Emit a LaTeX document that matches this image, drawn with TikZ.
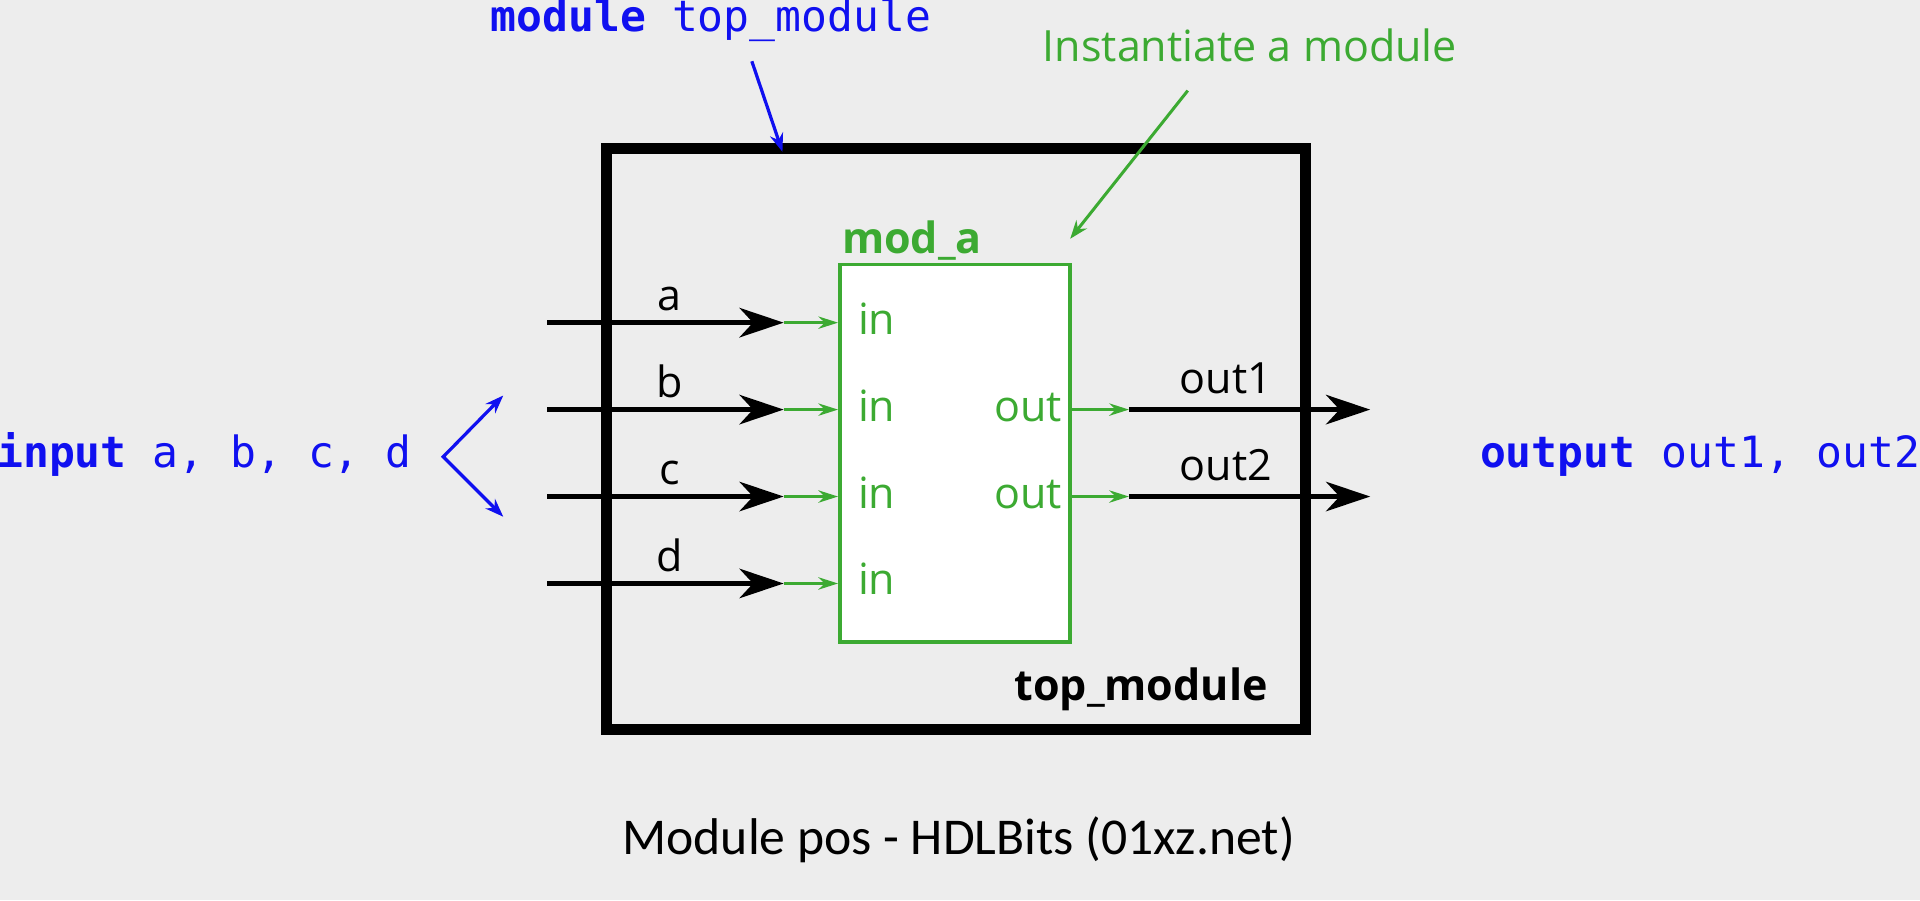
\documentclass[tikz,border=0pt]{standalone}
\usepackage{fontspec}
\setmainfont{Open Sans}
\newfontfamily\codefont{DejaVu Sans Mono}
\newfontfamily\capfont{Carlito}
\usetikzlibrary{arrows.meta}
\definecolor{paper}{RGB}{237,237,237}
\definecolor{vblue}{RGB}{16,16,240}
\definecolor{vgreen}{RGB}{60,170,50}
\begin{document}
\begin{tikzpicture}[x=0.1mm,y=-0.1mm,
    >={Stealth[length=1.5mm,width=1.1mm]},
    box/.style={draw,line width=2.5pt,minimum width=57.1mm,minimum height=47.5mm},
    inst/.style={draw=vgreen,fill=white,line width=0.9pt,minimum width=18.8mm,minimum height=30.8mm},
    wire/.style={line width=1.3pt,-{Stealth[length=3.6mm,width=2.4mm,inset=1.1mm]}},
    link/.style={vgreen,line width=0.8pt,-{Stealth[length=1.6mm,width=1mm]}},
    note/.style={vblue,line width=0.75pt},
    callout/.style={vgreen,line width=0.7pt},
    code/.style={vblue,font=\codefont\fontsize{10pt}{12pt}\selectfont,inner sep=0pt},
    lbl/.style={font=\fontsize{10pt}{12pt}\selectfont,inner sep=0pt},
    port/.style={lbl,vgreen},
    captxt/.style={font=\capfont\fontsize{12pt}{14pt}\selectfont,inner sep=0pt},
  ]
  \useasboundingbox (0,0) rectangle (1568,735);
  \fill[paper] (0,0) rectangle (1568,735);
  \node[box] (top) at (780.5,358.5) {};
  \node[inst] (moda) at (780,370) {};
  \node[port,anchor=base west] (modname) at (687,207) {\bfseries mod\_a};
  \node[lbl,anchor=base east] (topname) at (1036,572) {\bfseries top\_module};
  \node[code,anchor=base west] (modkw) at (400,26) {{\bfseries module} top\_module};
  \node[code,anchor=base west] (inkw) at (-3,382) {{\bfseries input} a, b, c, d};
  \node[code,anchor=base west] (outkw) at (1208,382) {{\bfseries output} out1, out2};
  \node[lbl,vgreen,anchor=base west] (instlbl) at (851,50) {Instantiate a module};
  \node[captxt,anchor=base] (caption) at (783,698) {Module pos - HDLBits (01xz.net)};
  \foreach \s [count=\k] in {a,b,c,d}{
    \pgfmathsetmacro\yy{263.5+71*(\k-1)}
    \coordinate (src\s) at (447,\yy);
    \coordinate (end\s) at (640,\yy);
    \coordinate (in\s) at (moda.west |- end\s);
    \node[port,anchor=mid west] (pin\s) at (700,\yy) {in};
    \node[lbl,anchor=base] (name\s) at (547,\yy-10) {\s};
    \draw[wire] (src\s) -- (end\s);
    \draw[link] (end\s) -- (in\s);
  }
  \foreach \k in {1,2}{
    \pgfmathsetmacro\yy{334.5+71*(\k-1)}
    \coordinate (tap\k) at (922,\yy);
    \coordinate (dst\k) at (1119,\yy);
    \coordinate (po\k) at (moda.east |- tap\k);
    \node[port,anchor=mid east] (pout\k) at (868,\yy) {out};
    \node[lbl,anchor=base] (oname\k) at (1001,\yy-13.5) {out\k};
    \draw[link] (po\k) -- (tap\k);
    \draw[wire] (tap\k) -- (dst\k);
  }
  \coordinate (vtx) at (362,373);
  \coordinate (vup) at (411,323);
  \coordinate (vdn) at (411,422);
  \draw[note,<->] (vup) -- (vtx) -- (vdn);
  \coordinate (modtail) at (614,50);
  \coordinate (modhead) at (639,124);
  \draw[note,->] (modtail) -- (modhead);
  \coordinate (insttail) at (970,74);
  \coordinate (insthead) at (874,195);
  \draw[callout,->] (insttail) -- (insthead);
\end{tikzpicture}
\end{document}
